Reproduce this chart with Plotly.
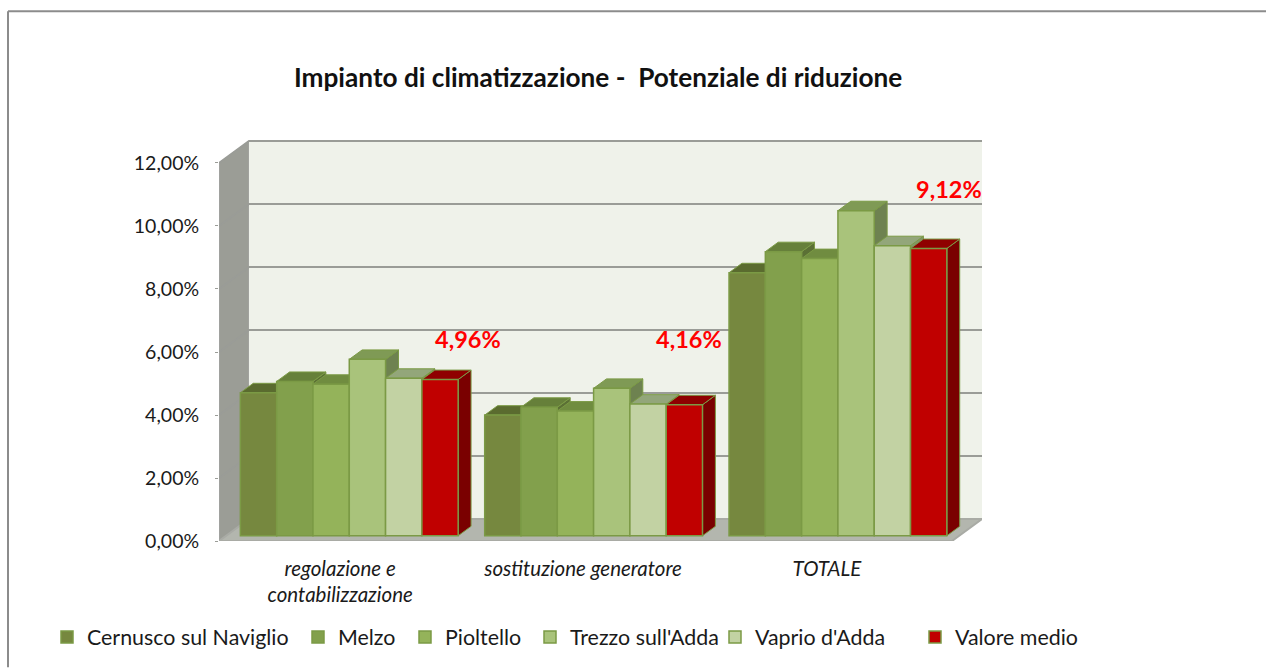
import plotly.graph_objects as go

# ---------- data ----------
categories = ["regolazione e<br>contabilizzazione", "sostituzione generatore", "TOTALE"]
series_names = ["Cernusco sul Naviglio", "Melzo", "Pioltello", "Trezzo sull'Adda", "Vaprio d'Adda", "Valore medio"]
cernusco = [4.54, 3.83, 8.35]
melzo = [4.90, 4.08, 9.02]
pioltello = [4.81, 3.96, 8.80]
trezzo = [5.60, 4.68, 10.32]
vaprio = [5.00, 4.18, 9.21]
valore_medio = [4.96, 4.16, 9.12]
series_values = [cernusco, melzo, pioltello, trezzo, vaprio, valore_medio]
tick_values = [0, 2, 4, 6, 8, 10, 12]
tick_labels = ["0,00%", "2,00%", "4,00%", "6,00%", "8,00%", "10,00%", "12,00%"]
title_text = "Impianto di climatizzazione -\u00a0 Potenziale di riduzione"

# ---------- style ----------
FONT = "Lato, Carlito, Calibri, sans-serif"
front_colors = ["#76883f", "#82a04c", "#94b35a", "#a9c37b", "#c2d2a3", "#c00000"]
top_colors = ["#5a6b2f", "#66803a", "#708c40", "#7f9a55", "#93a67a", "#8f0000"]
side_colors = ["#4f5f2a", "#5b7035", "#637c3a", "#6e8250", "#82936c", "#7a0000"]
outline = "#7b9a45"

W, H = 1266, 668
L, R, T, B = 219, 982, 140, 541.5
CAT_PX = 733 / 3
PCT_PX = 31.54
x_max = (R - L) / CAT_PX
y_max = (B - T) / PCT_PX
DEPTH_X = 30 / CAT_PX     # full floor depth, in category units
DEPTH_Y = 22 / PCT_PX     # full floor depth, in percent units
BAR_D0 = 0.27
BAR_D1 = 0.70
BAR_W = 36.3 / CAT_PX
BAR_DROP = 0.7 / PCT_PX   # bars sit slightly lower on the floor


def proj(x, v, d):
    return x + d * DEPTH_X, v + d * DEPTH_Y


def proj_bar(x, v, d):
    return proj(x, v - BAR_DROP, d)


def poly(points):
    return [p[0] for p in points] + [points[0][0]], [p[1] for p in points] + [points[0][1]]


def paper_x(px):
    return (px - L) / (R - L)


def paper_y(py):
    return (B - py) / (B - T)


fig = go.Figure()
no_hover = dict(hoverinfo="skip", showlegend=False)

# walls and floor
xs, ys = poly([proj(0, 0, 0), proj(0, 0, 1), proj(0, 12, 1), proj(0, 12, 0)])
fig.add_trace(go.Scatter(x=xs, y=ys, mode="lines", fill="toself", fillcolor="#9b9d96",
                         line=dict(color="#a6a6a6", width=1), **no_hover))
xs, ys = poly([proj(0, 0, 1), proj(x_max - DEPTH_X, 0, 1), proj(x_max - DEPTH_X, 12, 1), proj(0, 12, 1)])
fig.add_trace(go.Scatter(x=xs, y=ys, mode="lines", fill="toself", fillcolor="#eff2ea",
                         line=dict(width=0), **no_hover))
xs, ys = poly([proj(0, 0, 0), proj(3, 0, 0), proj(3, 0, 1), proj(0, 0, 1)])
fig.add_trace(go.Scatter(x=xs, y=ys, mode="lines", fill="toself", fillcolor="#b3b6ae",
                         line=dict(color="#a9aba5", width=2), cliponaxis=False, **no_hover))

# grid lines on both walls
for t in tick_values[1:]:
    a, b, c = proj(0, t, 0), proj(0, t, 1), proj(3, t, 1)
    fig.add_trace(go.Scatter(x=[a[0], b[0], c[0]], y=[a[1], b[1], c[1]], mode="lines",
                             line=dict(color="#9a9c97", width=2), cliponaxis=False, **no_hover))

# sides and tops of the bars, painted left to right
for i, values in enumerate(series_values):
    side_x, side_y, top_x, top_y = [], [], [], []
    for g, v in enumerate(values):
        left = g + 0.5 + (i - 3) * BAR_W
        right = left + BAR_W
        sx, sy = poly([proj_bar(right, 0, BAR_D0), proj_bar(right, 0, BAR_D1),
                       proj_bar(right, v, BAR_D1), proj_bar(right, v, BAR_D0)])
        tx, ty = poly([proj_bar(left, v, BAR_D0), proj_bar(right, v, BAR_D0),
                       proj_bar(right, v, BAR_D1), proj_bar(left, v, BAR_D1)])
        side_x += sx + [None]
        side_y += sy + [None]
        top_x += tx + [None]
        top_y += ty + [None]
    fig.add_trace(go.Scatter(x=side_x, y=side_y, mode="lines", fill="toself", fillcolor=side_colors[i],
                             line=dict(color=outline, width=1), **no_hover))
    fig.add_trace(go.Scatter(x=top_x, y=top_y, mode="lines", fill="toself", fillcolor=top_colors[i],
                             line=dict(color=outline, width=1), **no_hover))

# front faces as real bars on an overlaid pair of axes
legend_text_px = [87, 338, 445, 570, 755, 955]
shift_x, shift_y = proj_bar(0, 0, BAR_D0)
legend_layout = {}
for i, values in enumerate(series_values):
    name = "legend" if i == 0 else f"legend{i + 1}"
    fig.add_trace(go.Bar(
        x=[g + 0.5 + (i - 2.5) * BAR_W + shift_x for g in range(3)],
        y=values, base=shift_y, width=BAR_W, name=series_names[i],
        marker=dict(color=front_colors[i], line=dict(color=outline, width=1.5)),
        xaxis="x2", yaxis="y2", legend=name,
    ))
    legend_layout[name] = dict(
        xref="container", yref="container",
        x=(legend_text_px[i] - 40) / W, xanchor="left",
        y=1 - 637 / H, yanchor="middle", orientation="h",
        bgcolor="rgba(0,0,0,0)", font=dict(family=FONT, size=21.4, color="#1a1a1a"),
    )

# data labels of the average series
label_dx = [28, 4.5, 20.5]
label_dy = [40.5, 65.5, 59.5]
annotations = []
for g, v in enumerate(valore_medio):
    annotations.append(dict(
        x=g + 0.5 + 2.5 * BAR_W + shift_x + label_dx[g] / CAT_PX,
        y=v + shift_y + label_dy[g] / PCT_PX,
        xref="x", yref="y", text=f"<b>{v:.2f}%</b>".replace(".", ","), showarrow=False,
        font=dict(family=FONT, size=23.5, color="#ff0000"),
    ))
annotations.append(dict(
    x=paper_x(598), y=paper_y(77), xref="paper", yref="paper", showarrow=False,
    xanchor="center", yanchor="middle",
    text=f"<b>{title_text}</b>", font=dict(family=FONT, size=26.2, color="#111111"),
))

# outer chart frame
frame = [
    dict(type="line", xref="paper", yref="paper", x0=paper_x(8), x1=paper_x(8), y0=paper_y(668), y1=paper_y(11),
         line=dict(color="#8c8c8c", width=2)),
    dict(type="line", xref="paper", yref="paper", x0=paper_x(8), x1=paper_x(1266), y0=paper_y(11), y1=paper_y(11),
         line=dict(color="#8c8c8c", width=2)),
]

fig.update_layout(
    width=W, height=H, autosize=False,
    margin=dict(l=L, r=W - R, t=T, b=H - B, pad=0, autoexpand=False),
    paper_bgcolor="white", plot_bgcolor="rgba(0,0,0,0)",
    barmode="overlay", showlegend=True, annotations=annotations, shapes=frame,
    font=dict(family=FONT, size=20, color="#1a1a1a"),
    xaxis=dict(range=[0, x_max], tickmode="array", tickvals=[0.496, 1.49, 2.488], ticktext=categories,
               tickfont=dict(family=FONT, size=20.5, style="italic", color="#1a1a1a"), automargin=False,
               showgrid=False, zeroline=False, showline=False, ticks="", ticklabelstandoff=13),
    yaxis=dict(range=[0, y_max], tickmode="array", tickvals=tick_values, ticktext=tick_labels,
               tickfont=dict(family=FONT, size=19.5, color="#1a1a1a"), automargin=False,
               showgrid=False, zeroline=False, showline=False, ticks="outside", ticklen=3,
               tickcolor="#9a9c97", ticklabelstandoff=12),
    xaxis2=dict(range=[0, x_max], overlaying="x", visible=False),
    yaxis2=dict(range=[0, y_max], overlaying="y", visible=False),
    **legend_layout,
)

fig.write_html("out.html", config={"displayModeBar": False},
               post_script="document.body.style.margin='0';document.documentElement.style.overflow='hidden';")
